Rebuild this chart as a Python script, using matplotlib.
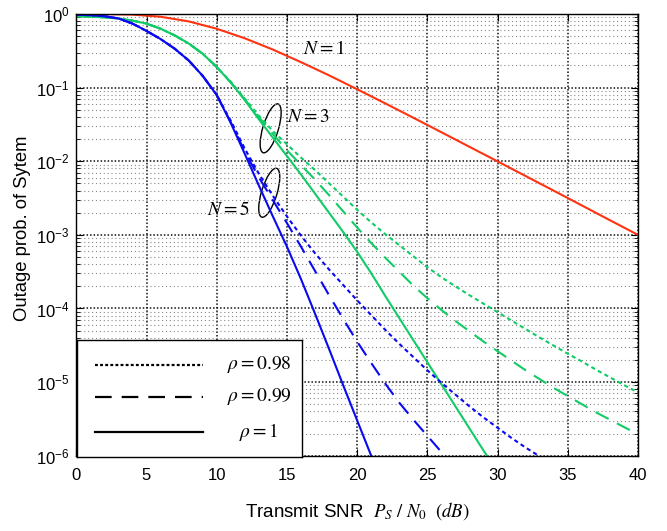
import numpy as np
import matplotlib
matplotlib.use("Agg")
import matplotlib.pyplot as plt
import matplotlib.transforms as mtransforms
from matplotlib.patches import Ellipse

plt.rcParams['font.family'] = ['Liberation Sans', 'DejaVu Sans']
plt.rcParams['mathtext.fontset'] = 'custom'
plt.rcParams['mathtext.rm'] = 'Liberation Sans'
plt.rcParams['mathtext.it'] = 'Liberation Sans:italic'
plt.rcParams['mathtext.bf'] = 'Liberation Sans:bold'

# ---- data (log10 of outage probability) ----
snr_n1 = [0, 2, 4, 6, 8, 10, 12, 14, 16, 18, 20, 22, 24, 26, 28, 30, 32, 34, 36, 38, 40]
log_n1 = [0.0, -0.001, -0.008, -0.037, -0.10, -0.20, -0.33, -0.483, -0.654, -0.833, -1.022,
          -1.214, -1.409, -1.606, -1.804, -2.002, -2.201, -2.40, -2.60, -2.801, -3.0]

snr_low = [0, 1, 2, 3, 4, 5, 6, 7, 8, 9, 10]
log_n3_low = [-0.03, -0.035, -0.045, -0.06, -0.09, -0.13, -0.20, -0.29, -0.40, -0.54, -0.72]
log_n5_low = [-0.01, -0.015, -0.03, -0.06, -0.13, -0.23, -0.34, -0.47, -0.63, -0.84, -1.10]

# N = 3
snr_n3_r1 = list(range(11, 30)) + [29.25]
log_n3_r1 = [-0.93, -1.17, -1.43, -1.68, -1.93, -2.18, -2.44, -2.70, -2.96, -3.23, -3.52,
             -3.83, -4.13, -4.43, -4.73, -5.03, -5.33, -5.63, -5.93, -6.0]
snr_n3_r99 = list(range(11, 41))
log_n3_r99 = [-0.93, -1.16, -1.40, -1.63, -1.85, -2.05, -2.25, -2.46, -2.68, -2.90, -3.11,
              -3.31, -3.50, -3.69, -3.86, -4.02, -4.17, -4.31, -4.45, -4.58, -4.71, -4.84,
              -4.96, -5.08, -5.19, -5.30, -5.41, -5.51, -5.61, -5.71]
snr_n3_r98 = list(range(11, 41))
log_n3_r98 = [-0.92, -1.15, -1.38, -1.59, -1.77, -1.95, -2.12, -2.30, -2.48, -2.66, -2.83,
              -2.99, -3.14, -3.29, -3.44, -3.575, -3.70, -3.82, -3.935, -4.05, -4.165, -4.28,
              -4.395, -4.505, -4.615, -4.72, -4.83, -4.935, -5.04, -5.14]

# N = 5
snr_n5_r1 = list(range(11, 22))
log_n5_r1 = [-1.48, -1.90, -2.33, -2.75, -3.16, -3.60, -4.07, -4.55, -5.04, -5.52, -6.0]
snr_n5_r99 = list(range(11, 27)) + [26.25]
log_n5_r99 = [-1.47, -1.87, -2.22, -2.53, -2.84, -3.16, -3.49, -3.82, -4.14, -4.45, -4.74,
              -5.02, -5.28, -5.51, -5.73, -5.95, -6.0]
snr_n5_r98 = list(range(11, 34))
log_n5_r98 = [-1.45, -1.83, -2.17, -2.47, -2.75, -3.01, -3.25, -3.47, -3.68, -3.89, -4.09,
              -4.29, -4.48, -4.66, -4.84, -5.01, -5.17, -5.33, -5.48, -5.62, -5.76, -5.89, -6.01]

legend_labels = [r'$\rho = 0.98$', r'$\rho = 0.99$', r'$\rho = 1$']

red = '#FF3311'
green = '#11CC66'
blue = '#0A0AF0'
dotted = (0, (2.0, 1.6))
dashed = (0, (7.0, 4.5))
lw = 1.5


def curve(low, x, y):
    return np.array(snr_low + x), 10.0 ** np.array(low + y)


fig = plt.figure(figsize=(6.67, 5.31), dpi=100)
ax = fig.add_axes([0.1144, 0.1418, 0.8421, 0.8318])

ax.plot(snr_n1, 10.0 ** np.array(log_n1), color=red, lw=lw)
for x, y, ls in [(snr_n3_r98, log_n3_r98, dotted), (snr_n3_r99, log_n3_r99, dashed),
                 (snr_n3_r1, log_n3_r1, '-')]:
    xx, yy = curve(log_n3_low, x, y)
    ax.plot(xx, yy, color=green, lw=lw, linestyle=ls)
for x, y, ls in [(snr_n5_r98, log_n5_r98, dotted), (snr_n5_r99, log_n5_r99, dashed),
                 (snr_n5_r1, log_n5_r1, '-')]:
    xx, yy = curve(log_n5_low, x, y)
    ax.plot(xx, yy, color=blue, lw=lw, linestyle=ls)

ax.set_yscale('log')
ax.set_xlim(0, 40)
ax.set_ylim(1e-6, 1)
ax.set_xticks(range(0, 41, 5))
ax.set_yticks([10.0 ** -k for k in range(6, -1, -1)])
ax.set_yticklabels([r'$10^{%d}$' % -k for k in range(6, -1, -1)])
ax.yaxis.set_minor_locator(matplotlib.ticker.LogLocator(base=10, subs=np.arange(2, 10), numticks=20))
ax.yaxis.set_minor_formatter(matplotlib.ticker.NullFormatter())
ax.tick_params(which='both', direction='in', top=True, right=True, labelsize=12)
ax.tick_params(which='major', length=5)
ax.tick_params(which='minor', length=3)
ax.tick_params(axis='x', pad=9)
ax.tick_params(axis='y', pad=5)
ax.grid(which='major', linestyle=(0, (1, 1.3)), color='#111111', lw=1.1)
ax.grid(which='minor', axis='y', linestyle=(0, (1, 2.5)), color='#888888', lw=0.8)
for s in ax.spines.values():
    s.set_linewidth(1.0)

# annotations
ax.text(17.65, 10 ** -0.476, r'$N = 1$', fontsize=14, math_fontfamily='stix', ha='center', va='center')
ax.text(16.5, 10 ** -1.40, r'$N = 3$', fontsize=14, math_fontfamily='stix', ha='center', va='center')
ax.text(10.86, 10 ** -2.66, r'$N = 5$', fontsize=14, math_fontfamily='stix', ha='center', va='center')
for cx, cy in [(13.84, 10 ** -1.553), (13.74, 10 ** -2.428)]:
    tr = fig.dpi_scale_trans + mtransforms.ScaledTranslation(cx, cy, ax.transData)
    ax.add_patch(Ellipse((0, 0), 0.51, 0.155, angle=73, transform=tr,
                         fill=False, edgecolor='k', lw=1.0))

fig.text(357 / 667, 1 - 511 / 531, r'Transmit SNR  $P_S\ /\ N_0\ \ (dB)$', fontsize=13.5,
         math_fontfamily='stix', ha='center', va='center')
fig.text(23 / 667, 1 - 228 / 531, 'Outage prob. of Sytem', fontsize=13.3, rotation=90,
         ha='center', va='center')

# legend box
lax = fig.add_axes([0.1159, 0.1399, 0.3364, 0.2198])
lax.set_xlim(0, 1)
lax.set_ylim(0, 1)
lax.set_xticks([])
lax.set_yticks([])
for s in lax.spines.values():
    s.set_linewidth(1.0)
for yy, ls, lab in zip([0.786, 0.514, 0.214], [(0, (1.3, 1.0)), (0, (7.5, 4.5)), '-'], legend_labels):
    lax.plot([0.079, 0.56], [yy, yy], color='k', lw=1.6, linestyle=ls)
    lax.text(0.81, yy, lab, fontsize=14, math_fontfamily='stix', ha='center', va='center')

fig.savefig('out.png', dpi=100)
